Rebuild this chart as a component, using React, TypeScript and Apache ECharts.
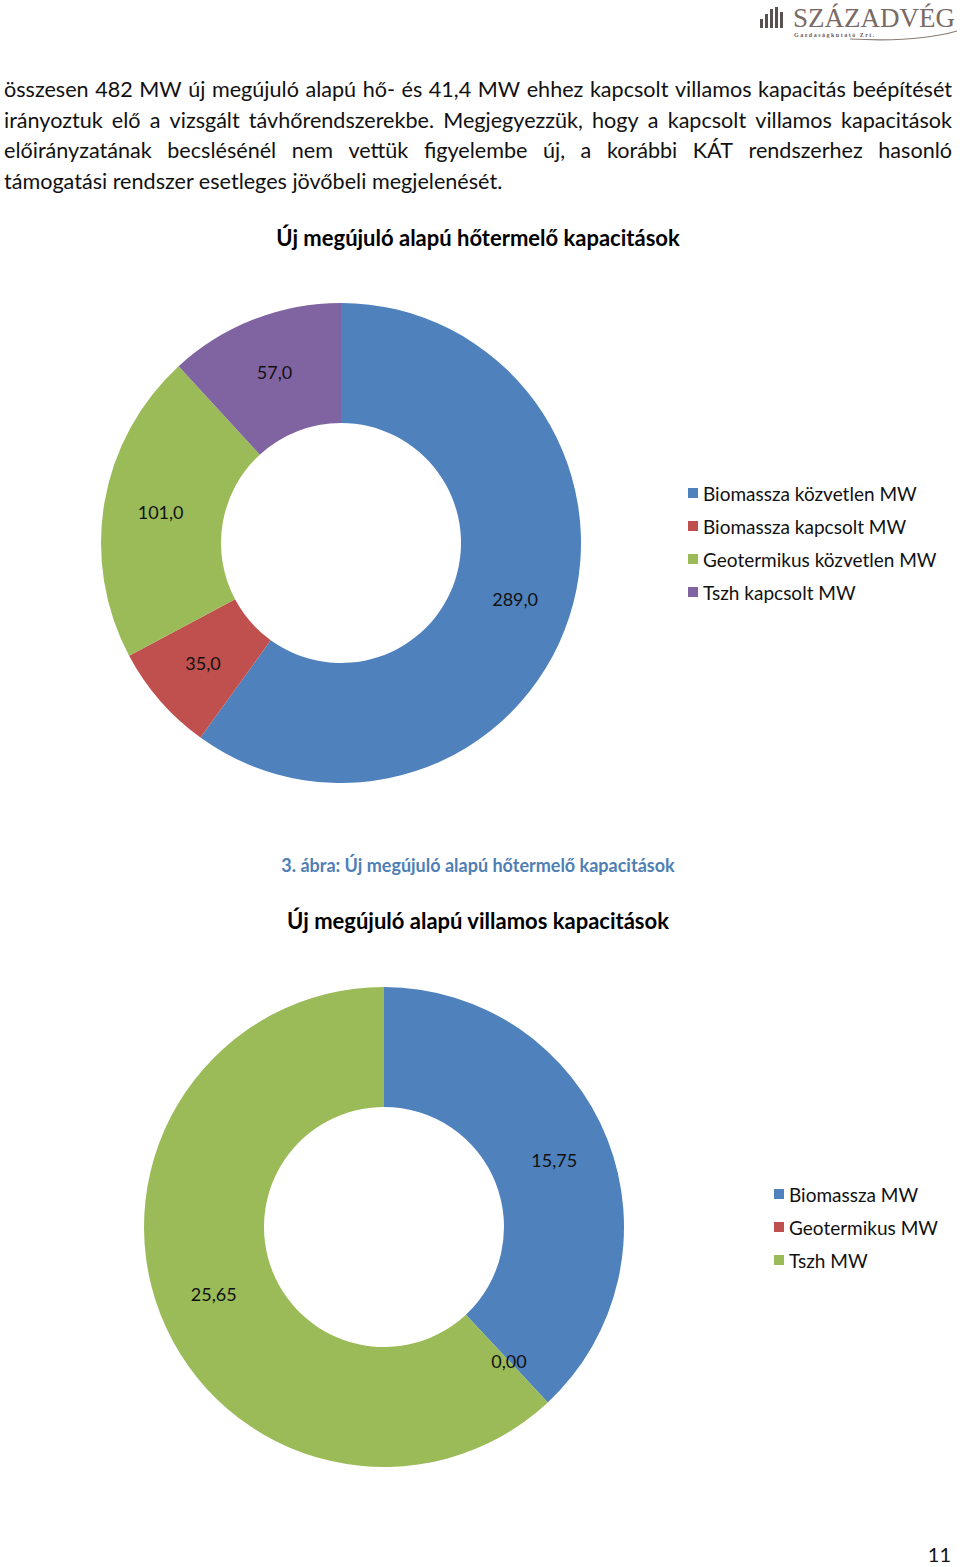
import React, { useEffect, useRef } from "react";
import * as echarts from "echarts";

const paragraphLines = [
  "összesen 482 MW új megújuló alapú hő- és 41,4 MW ehhez kapcsolt villamos kapacitás beépítését",
  "irányoztuk elő a vizsgált távhőrendszerekbe. Megjegyezzük, hogy a kapcsolt villamos kapacitások",
  "előirányzatának becslésénél nem vettük figyelembe új, a korábbi KÁT rendszerhez hasonló",
  "támogatási rendszer esetleges jövőbeli megjelenését.",
];
const paragraphJustified = [true, true, true, false];

const heatTitle = "Új megújuló alapú hőtermelő kapacitások";
const heatCaption = "3. ábra: Új megújuló alapú hőtermelő kapacitások";
const heatNames = [
  "Biomassza közvetlen MW",
  "Biomassza kapcsolt MW",
  "Geotermikus közvetlen MW",
  "Tszh kapcsolt MW",
];
const heatValues = [289.0, 35.0, 101.0, 57.0];
const heatColors = ["#4F81BD", "#C0504D", "#9BBB59", "#8064A2"];

const elecTitle = "Új megújuló alapú villamos kapacitások";
const elecNames = ["Biomassza MW", "Geotermikus MW", "Tszh MW"];
const elecValues = [15.75, 0.0, 25.65];
const elecColors = ["#4F81BD", "#C0504D", "#9BBB59"];

const pageNumber = "11";

const FONT = "Lato, 'Open Sans', sans-serif";

function measure(text: string, font: string): number {
  const c = document.createElement("canvas");
  const ctx = c.getContext("2d")!;
  ctx.font = font;
  return ctx.measureText(text).width;
}

function buildParagraph(): any[] {
  const left = 4;
  const right = 952;
  const lastWidthTarget = 499;
  const baseSize = 20;
  const w4 = measure(paragraphLines[3], `${baseSize}px Lato`);
  const size = w4 > 0 ? Math.min(22, Math.max(17, (baseSize * lastWidthTarget) / w4)) : baseSize;
  const font = `${size}px Lato`;
  const ys = [89, 120, 150, 181];
  const els: any[] = [];
  const mk = (text: string, x: number, y: number) => ({
    type: "text",
    x,
    y,
    style: {
      text,
      fontSize: size,
      fontFamily: "Lato",
      fill: "#111",
      textAlign: "left",
      textVerticalAlign: "middle",
      align: "left",
      verticalAlign: "middle",
    },
  });
  paragraphLines.forEach((line, i) => {
    const y = ys[i];
    if (!paragraphJustified[i]) {
      els.push(mk(line, left, y));
      return;
    }
    const words = line.split(" ");
    const widths = words.map((w) => measure(w, font));
    const total = widths.reduce((a, b) => a + b, 0);
    const gap = (right - left - total) / (words.length - 1);
    let x = left;
    words.forEach((w, k) => {
      els.push(mk(w, x, y));
      x += widths[k] + gap;
    });
  });
  return els;
}

function buildLogo(): any[] {
  const bars = [
    [760, 19, 3, 9],
    [765, 14, 3, 14],
    [770, 9, 3, 19],
    [775, 7, 3, 21],
    [780, 12, 3, 16],
  ];
  const els: any[] = bars.map(([x, y, w, h]) => ({
    type: "rect",
    shape: { x, y, width: w, height: h },
    style: { fill: "#5a5050" },
  }));
  els.push({
    type: "text",
    x: 793,
    y: 18,
    style: {
      text: "SZÁZADVÉG",
      fontSize: 27,
      fontFamily: "'Liberation Serif', 'DejaVu Serif', serif",
      fill: "#7a6a66",
      textAlign: "left",
      textVerticalAlign: "middle",
      align: "left",
      verticalAlign: "middle",
    },
  });
  els.push({
    type: "text",
    x: 794,
    y: 35,
    style: {
      text: "G a z d a s á g k u t a t ó   Z r t .",
      fontSize: 6,
      fontWeight: "bold",
      fontFamily: "'Liberation Serif', serif",
      fill: "#6a5a56",
      textAlign: "left",
      textVerticalAlign: "middle",
      align: "left",
      verticalAlign: "middle",
    },
  });
  els.push({
    type: "bezierCurve",
    shape: { x1: 850, y1: 39, cpx1: 890, cpy1: 41, cpx2: 930, cpy2: 39, x2: 957, y2: 31 },
    style: { stroke: "#8a7a76", lineWidth: 1.2, fill: "none" },
  });
  return els;
}

function centeredText(text: string, x: number, y: number, size: number, color: string, bold: boolean) {
  return {
    type: "text",
    x,
    y,
    style: {
      text,
      fontSize: size,
      fontWeight: bold ? "bold" : "normal",
      fontFamily: "Lato",
      fill: color,
      textAlign: "center",
      textVerticalAlign: "middle",
      align: "center",
      verticalAlign: "middle",
    },
  };
}

export default function App() {
  const ref = useRef<HTMLDivElement>(null);
  useEffect(() => {
    document.body.style.margin = "0";
    const chart = echarts.init(ref.current!, undefined, { renderer: "svg" });
    const labelCommon = {
      show: true,
      position: "inside",
      color: "#111",
      fontSize: 18,
      fontFamily: FONT,
    };
    const legendCommon = {
      orient: "vertical",
      itemWidth: 10,
      itemHeight: 10,
      itemGap: 13,
      padding: 0,
      selectedMode: false,
      icon: "rect",
      textStyle: { fontSize: 19, lineHeight: 20, color: "#111", fontFamily: FONT },
    };
    const option: any = {
      animation: false,
      backgroundColor: "#ffffff",
      title: [
        {
          text: heatTitle,
          left: 478,
          top: 226,
          padding: 0,
          textAlign: "center",
          textStyle: { fontSize: 22, fontWeight: "bold", color: "#000", fontFamily: FONT },
        },
        {
          text: elecTitle,
          left: 478,
          top: 909,
          padding: 0,
          textAlign: "center",
          textStyle: { fontSize: 22, fontWeight: "bold", color: "#000", fontFamily: FONT },
        },
      ],
      legend: [
        { ...legendCommon, data: heatNames, left: 688, top: 483 },
        { ...legendCommon, data: elecNames, left: 774, top: 1184 },
      ],
      series: [
        {
          type: "pie",
          center: [341, 543],
          radius: [120, 240],
          startAngle: 90,
          clockwise: true,
          avoidLabelOverlap: false,
          label: { ...labelCommon, formatter: (p: any) => p.value.toFixed(1).replace(".", ",") },
          labelLine: { show: false },
          emphasis: { disabled: true },
          data: heatNames.map((n, i) => ({
            name: n,
            value: heatValues[i],
            itemStyle: { color: heatColors[i] },
          })),
        },
        {
          type: "pie",
          center: [384, 1227],
          radius: [120, 240],
          startAngle: 90,
          clockwise: true,
          avoidLabelOverlap: false,
          minShowLabelAngle: 0,
          label: { ...labelCommon, formatter: (p: any) => p.value.toFixed(2).replace(".", ",") },
          labelLine: { show: false },
          emphasis: { disabled: true },
          data: elecNames.map((n, i) => ({
            name: n,
            value: elecValues[i],
            itemStyle: { color: elecColors[i] },
          })),
        },
      ],
      graphic: [
        ...buildLogo(),
        ...buildParagraph(),
        centeredText(heatCaption, 478, 865, 18, "#4F7FB5", true),
        {
          type: "text",
          x: 951,
          y: 1554,
          style: {
            text: pageNumber,
            fontSize: 20,
            fontFamily: "Lato",
            fill: "#111",
            textAlign: "right",
            textVerticalAlign: "middle",
            align: "right",
            verticalAlign: "middle",
          },
        },
      ],
    };
    chart.setOption(option);
    return () => chart.dispose();
  }, []);
  return (
    <div
      ref={ref}
      style={{ position: "absolute", left: 0, top: 0, width: 960, height: 1567, background: "#fff" }}
    />
  );
}
